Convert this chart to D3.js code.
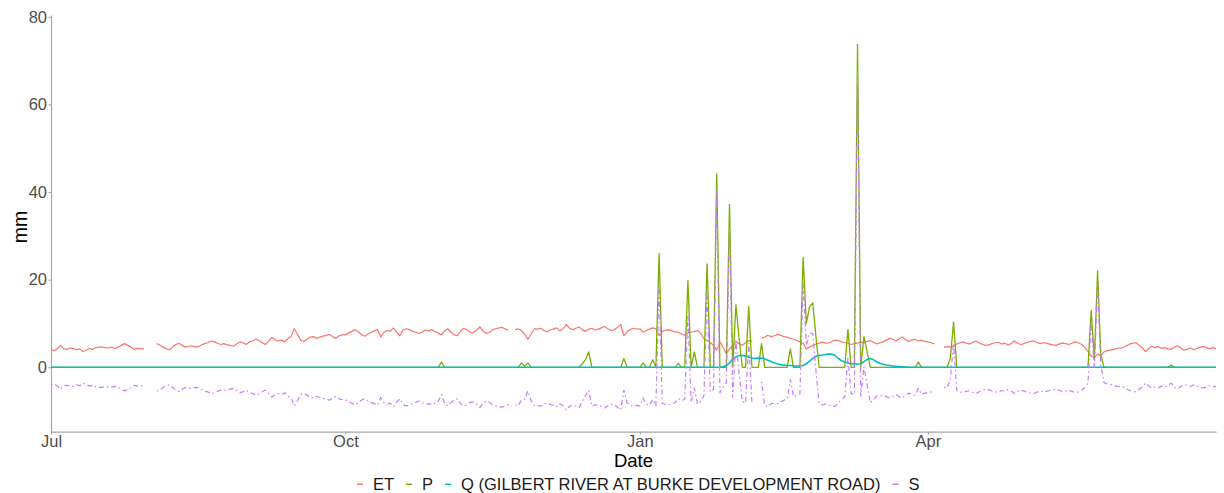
<!DOCTYPE html>
<html>
<head>
<meta charset="utf-8">
<script src="https://cdn.jsdelivr.net/npm/d3@7"></script>
<style>
  body { margin: 0; background: #fff; }
  svg { display: block; font-family: "Liberation Sans", Arial, sans-serif; }
</style>
</head>
<body>
<svg id="chart" width="1224" height="493"></svg>
<script>
// daily series, 1 Jul 2018 .. 30 Jun 2019 (one row per month)
const startDate = new Date(2018, 6, 1);
const seriesNames = ["ET", "P", "Q (GILBERT RIVER AT BURKE DEVELOPMENT ROAD)", "S"];
const yTicks = [0, 20, 40, 60, 80];
const xTickDates = [new Date(2018, 6, 1), new Date(2018, 9, 1), new Date(2019, 0, 1), new Date(2019, 3, 1)];

const etValues = [
  4.0,3.8,4.3,5.0,4.2,4.1,4.4,4.3,4.0,4.2,3.6,3.9,4.3,4.1,4.5,4.6,4.6,4.5,4.4,4.6,4.3,4.6,5.0,5.4,5.0,4.6,4.1,4.3,4.2,4.2,null,
  null,null,5.4,5.1,4.6,4.2,4.0,4.6,5.2,5.5,5.0,4.6,4.8,4.9,4.6,4.7,5.1,5.4,5.6,6.0,5.8,5.5,5.2,5.4,5.1,5.0,4.8,5.3,5.8,5.6,5.2,
  5.8,6.0,6.4,6.1,5.6,5.2,5.9,6.8,6.3,6.0,6.2,5.8,6.5,7.0,8.8,7.6,6.2,5.9,6.4,6.9,7.0,6.6,6.9,7.1,7.3,7.5,7.0,6.6,7.2,7.4,
  7.4,7.8,8.2,8.6,8.1,7.5,7.1,7.6,8.0,8.3,8.6,6.9,8.0,8.4,8.2,9.0,8.0,7.2,8.5,8.8,8.6,8.2,8.0,7.7,8.1,8.5,8.3,8.6,8.1,7.8,7.4,
  8.3,8.8,8.0,7.4,7.2,8.3,8.9,8.5,8.0,7.9,8.5,9.2,8.3,7.7,8.0,8.6,8.8,9.0,9.1,8.7,8.5,null,8.6,8.8,8.4,7.5,6.4,7.6,8.8,8.7,
  8.9,8.4,8.1,8.5,8.7,9.0,8.3,8.8,9.8,8.9,8.6,8.9,9.2,8.6,8.2,8.7,8.9,8.5,8.7,9.0,9.3,8.8,8.4,8.6,9.1,9.8,7.2,8.1,8.6,8.9,8.7,
  8.8,8.0,8.4,8.7,9.0,8.8,7.3,8.2,8.5,8.6,8.3,8.1,8.0,7.6,7.3,7.9,8.0,8.2,8.4,7.8,6.5,6.1,5.6,5.0,3.9,5.8,4.5,3.1,4.2,5.0,5.8,
  5.4,5.0,5.6,6.1,5.9,null,null,6.6,6.9,7.3,7.0,7.2,7.5,7.3,7.0,6.9,6.6,6.4,6.1,5.8,5.5,4.2,4.6,5.0,5.3,5.5,5.8,5.5,
  5.6,5.9,6.2,6.1,5.8,5.6,5.5,5.2,5.4,5.5,5.8,5.6,5.9,6.1,5.7,5.3,5.6,5.8,6.2,6.6,6.4,6.0,6.5,6.9,6.3,5.9,6.2,6.4,6.0,6.2,5.9,
  5.8,5.6,5.3,null,null,4.6,4.7,4.6,4.8,5.3,5.6,5.8,5.5,5.3,5.7,6.0,5.6,5.2,5.0,5.1,5.4,5.6,5.7,5.3,5.5,5.1,5.4,6.0,5.5,5.2,
  5.4,5.7,5.9,6.0,5.7,5.4,5.6,5.5,5.3,5.1,5.0,5.3,5.5,5.4,5.2,5.5,5.8,5.6,5.2,4.6,3.6,2.6,2.2,3.0,2.6,3.5,3.8,3.9,4.1,4.3,4.4,
  4.5,4.9,5.3,5.5,5.6,5.0,4.4,3.6,4.3,4.8,4.5,4.7,4.3,4.5,4.2,4.1,4.6,4.9,4.4,3.9,4.1,4.4,4.0,4.3,4.6,4.7,4.5,4.2,4.5,4.3
];

const pValues = [
  0,0,0,0,0,0,0,0,0,0,0,0,0,0,0,0,0,0,0,0,0,0,0,0,0,0,0,0,0,0,0,
  0,0,0,0,0,0,0,0,0,0,0,0,0,0,0,0,0,0,0,0,0,0,0,0,0,0,0,0,0,0,0,
  0,0,0,0,0,0,0,0,0,0,0,0,0,0,0,0,0,0,0,0,0,0,0,0,0,0,0,0,0,0,
  0,0,0,0,0,0,0,0,0,0,0,0,0,0,0,0,0,0,0,0,0,0,0,0,0,0,0,0,0,0,1.2,
  0,0,0,0,0,0,0,0,0,0,0,0,0,0,0,0,0,0,0,0,0,0,0,0,1.0,0.2,1.0,0,0,0,
  0,0,0,0,0,0,0,0,0,0,0,0,0,0.8,1.7,3.5,0,0,0,0,0,0,0,0,0,0,2.0,0,0,0,0,
  0,1.0,0,0,1.7,0,26.0,0,0,0,0,0,0.9,0,0,19.8,0,3.5,0,0,0,23.6,0,0,44.2,0,0,0,37.2,0,14.3,
  6.5,0,0,13.9,0,0,0,5.4,0,0,0,0,0,0,0,0,4.2,0,0,0,25.1,10.0,13.8,14.7,7.0,0,0,0,
  0,0,0,0,0,0,8.6,0,0,73.7,0,7.0,3.5,0,0,0,0,0,0,0,0,0,0,0,0,0,0,0,1.2,0,0,
  0,0,0,0,0,0,0,2.0,10.3,0,0,0,0,0,0,0,0,0,0,0,0,0,0,0,0,0,0,0,0,0,
  0,0,0,0,0,0,0,0,0,0,0,0,0,0,0,0,0,0,0,0,0,13.0,2.0,22.0,3.0,0,0,0,0,0,0,
  0,0,0,0,0,0,0,0,0,0,0,0,0,0,0,0.5,0,0,0,0,0,0,0,0,0,0,0,0,0,0
];

const qValues = [
  0,0,0,0,0,0,0,0,0,0,0,0,0,0,0,0,0,0,0,0,0,0,0,0,0,0,0,0,0,0,0,
  0,0,0,0,0,0,0,0,0,0,0,0,0,0,0,0,0,0,0,0,0,0,0,0,0,0,0,0,0,0,0,
  0,0,0,0,0,0,0,0,0,0,0,0,0,0,0,0,0,0,0,0,0,0,0,0,0,0,0,0,0,0,
  0,0,0,0,0,0,0,0,0,0,0,0,0,0,0,0,0,0,0,0,0,0,0,0,0,0,0,0,0,0,0,
  0,0,0,0,0,0,0,0,0,0,0,0,0,0,0,0,0,0,0,0,0,0,0,0,0,0,0,0,0,0,
  0,0,0,0,0,0,0,0,0,0,0,0,0,0,0,0,0,0,0,0,0,0,0,0,0,0,0,0,0,0,0,
  0,0,0,0,0,0,0,0,0,0,0,0,0,0,0,0,0,0,0,0,0,0,0,0,0,0,0.1,0.4,1.0,1.8,2.4,
  2.7,2.7,2.6,2.3,2.1,2.0,2.1,2.1,1.9,1.6,1.3,1.0,0.8,0.6,0.5,0.4,0.4,0.3,0.3,0.3,0.4,0.8,1.4,2.0,2.5,2.7,2.8,2.9,
  3.0,3.0,2.7,2.0,1.5,1.2,1.0,0.8,0.8,0.7,0.8,1.3,1.8,2.0,1.7,1.2,0.9,0.7,0.5,0.4,0.3,0.2,0.15,0.1,0.05,0,0,0,0,0,0,
  0,0,0,0,0,0,0,0,0,0,0,0,0,0,0,0,0,0,0,0,0,0,0,0,0,0,0,0,0,0,
  0,0,0,0,0,0,0,0,0,0,0,0,0,0,0,0,0,0,0,0,0,0,0,0,0,0,0,0,0,0,0,
  0,0,0,0,0,0,0,0,0,0,0,0,0,0,0,0,0,0,0,0,0,0,0,0,0,0,0,0,0,0
];

const sValues = [
  -4.0,-3.8,-4.3,-5.0,-4.2,-4.1,-4.4,-4.3,-4.0,-4.2,-3.6,-3.9,-4.3,-4.1,-4.5,-4.6,-4.6,-4.5,-4.4,-4.6,-4.3,-4.6,-5.0,-5.4,-5.0,-4.6,-4.1,-4.3,-4.2,-4.2,null,
  null,null,-5.4,-5.1,-4.6,-4.2,-4.0,-4.6,-5.2,-5.5,-5.0,-4.6,-4.8,-4.9,-4.6,-4.7,-5.1,-5.4,-5.6,-6.0,-5.8,-5.5,-5.2,-5.4,-5.1,-5.0,-4.8,-5.3,-5.8,-5.6,-5.2,
  -5.8,-6.0,-6.4,-6.1,-5.6,-5.2,-5.9,-6.8,-6.3,-6.0,-6.2,-5.8,-6.5,-7.0,-8.8,-7.6,-6.2,-5.9,-6.4,-6.9,-7.0,-6.6,-6.9,-7.1,-7.3,-7.5,-7.0,-6.6,-7.2,-7.4,
  -7.4,-7.8,-8.2,-8.6,-8.1,-7.5,-7.1,-7.6,-8.0,-8.3,-8.6,-6.9,-8.0,-8.4,-8.2,-9.0,-8.0,-7.2,-8.5,-8.8,-8.6,-8.2,-8.0,-7.7,-8.1,-8.5,-8.3,-8.6,-8.1,-7.8,-6.2,
  -8.3,-8.8,-8.0,-7.4,-7.2,-8.3,-8.9,-8.5,-8.0,-7.9,-8.5,-9.2,-8.3,-7.7,-8.0,-8.6,-8.8,-9.0,-9.1,-8.7,-8.5,null,-8.6,-8.8,-7.4,-7.3,-5.4,-7.6,-8.8,-8.7,
  -8.9,-8.4,-8.1,-8.5,-8.7,-9.0,-8.3,-8.8,-9.8,-8.9,-8.6,-8.9,-9.2,-7.8,-6.5,-5.2,-8.9,-8.5,-8.7,-9.0,-9.3,-8.8,-8.4,-8.6,-9.1,-9.8,-5.2,-8.1,-8.6,-8.9,-8.7,
  -8.8,-7.0,-8.4,-8.7,-7.3,-8.8,18.7,-8.2,-8.5,-8.6,-8.3,-8.1,-7.1,-7.6,-7.3,11.9,-8.0,-4.7,-8.4,-7.8,-6.5,17.5,-5.6,-5.0,40.3,-5.8,-4.6,-3.5,32.0,-6.8,6.1,
  -1.6,-7.7,-8.2,5.5,-8.0,null,null,-3.3,-8.8,-8.9,-8.3,-8.2,-8.3,-7.9,-7.5,-7.3,-2.8,-6.7,-6.4,-6.1,19.2,5.0,7.8,7.7,-0.8,-8.2,-8.6,-8.4,
  -8.6,-8.9,-8.9,-8.1,-7.3,-6.8,2.1,-6.0,-6.2,67.5,-6.6,0.1,-4.2,-8.1,-7.4,-6.5,-6.5,-6.5,-6.7,-7.0,-6.7,-6.2,-6.7,-7.0,-6.4,-5.9,-6.2,-6.4,-4.8,-6.2,-5.9,
  -5.8,-5.6,-5.3,null,null,-4.6,-4.7,-2.6,5.5,-5.3,-5.6,-5.8,-5.5,-5.3,-5.7,-6.0,-5.6,-5.2,-5.0,-5.1,-5.4,-5.6,-5.7,-5.3,-5.5,-5.1,-5.4,-6.0,-5.5,-5.2,
  -5.4,-5.7,-5.9,-6.0,-5.7,-5.4,-5.6,-5.5,-5.3,-5.1,-5.0,-5.3,-5.5,-5.4,-5.2,-5.5,-5.8,-5.6,-5.2,-4.6,-3.6,10.4,-0.2,19.0,0.4,-3.5,-3.8,-3.9,-4.1,-4.3,-4.4,
  -4.5,-4.9,-5.3,-5.5,-5.6,-5.0,-4.4,-3.6,-4.3,-4.8,-4.5,-4.7,-4.3,-4.5,-4.2,-3.6,-4.6,-4.9,-4.4,-3.9,-4.1,-4.4,-4.0,-4.3,-4.6,-4.7,-4.5,-4.2,-4.5,-4.3
];

const allValues = [etValues, pValues, qValues, sValues];
allValues.forEach((v, i) => {
  if (v.length !== 365) throw new Error(seriesNames[i] + " has " + v.length + " values");
});

const colors = ["#F8766D", "#7CAE00", "#00BFC4", "#C77CFF"];
const widths = [1.2, 1.3, 1.6, 1.2];
const dashes = [null, null, null, "1.5,3,5,3"];

const svg = d3.select("#chart");
const plotLeft = 51, plotRight = 1216, plotTop = 15, plotBottom = 431.7;

const x = d3.scaleTime()
  .domain([startDate, d3.timeDay.offset(startDate, 364)])
  .range([plotLeft, plotRight]);
const y = d3.scaleLinear()
  .domain([-14.7, 80.4])
  .range([plotBottom, plotTop]);

// axes
const xAxis = svg.append("g")
  .attr("transform", `translate(0,${plotBottom})`)
  .call(d3.axisBottom(x).tickValues(xTickDates).tickFormat(d3.timeFormat("%b"))
    .tickSize(3).tickSizeOuter(0).tickPadding(1));
const yAxis = svg.append("g")
  .attr("transform", `translate(${plotLeft},0)`)
  .call(d3.axisLeft(y).tickValues(yTicks).tickSize(2.5).tickSizeOuter(0).tickPadding(1.5));

[xAxis, yAxis].forEach(g => {
  g.select(".domain").attr("stroke", "#a6a6a6").attr("stroke-width", 1.2);
  g.selectAll(".tick line").attr("stroke", "#a6a6a6").attr("stroke-width", 1);
  g.selectAll(".tick text").attr("fill", "#4d4d4d").attr("font-size", 16.5)
    .attr("font-family", "Liberation Sans, Arial, sans-serif");
});

// lines
const line = d3.line()
  .defined(d => d.v != null)
  .x(d => x(d.date))
  .y(d => y(d.v));

allValues.forEach((vals, i) => {
  const pts = vals.map((v, k) => ({ date: d3.timeDay.offset(startDate, k), v: v }));
  svg.append("path")
    .datum(pts)
    .attr("fill", "none")
    .attr("stroke", colors[i])
    .attr("stroke-width", widths[i])
    .attr("stroke-linejoin", "round")
    .attr("stroke-dasharray", dashes[i])
    .attr("d", line);
});

// titles
svg.append("text")
  .attr("x", (plotLeft + plotRight) / 2)
  .attr("y", 467)
  .attr("text-anchor", "middle")
  .attr("font-size", 18.5)
  .attr("fill", "#000")
  .text("Date");

svg.append("text")
  .attr("transform", "translate(27,227) rotate(-90)")
  .attr("text-anchor", "middle")
  .attr("font-size", 19.5)
  .attr("fill", "#000")
  .text("mm");

// legend
const legend = svg.append("g");
let cur = 357;
seriesNames.forEach((name, i) => {
  legend.append("line")
    .attr("x1", cur).attr("x2", cur + 6)
    .attr("y1", 484.3).attr("y2", 484.3)
    .attr("stroke", colors[i])
    .attr("stroke-width", 1.5);
  const t = legend.append("text")
    .attr("x", cur + 16)
    .attr("y", 490)
    .attr("font-size", 16.5)
    .attr("fill", "#1a1a1a")
    .text(name);
  cur = cur + 16 + t.node().getComputedTextLength() + 12;
});
</script>
</body>
</html>
